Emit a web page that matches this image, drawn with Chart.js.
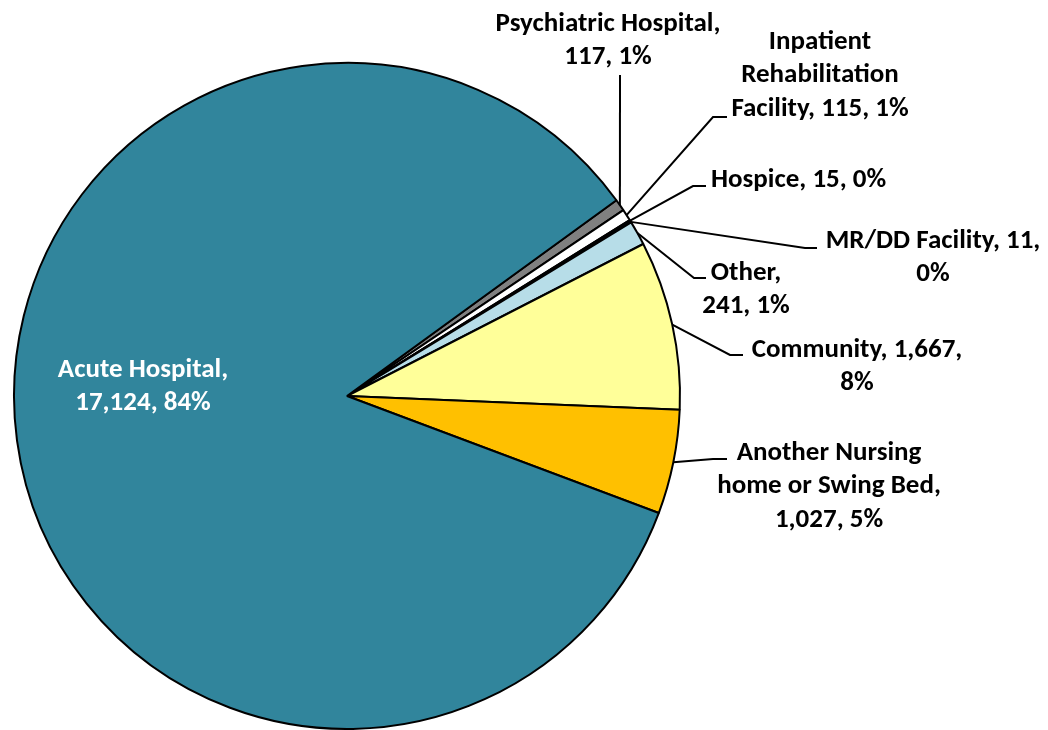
<!DOCTYPE html>
<html>
<head>
<meta charset="utf-8">
<script src="https://cdn.jsdelivr.net/npm/chart.js@4.4.0/dist/chart.umd.min.js"></script>
<style>
  html, body { margin: 0; padding: 0; background: #fff; overflow: hidden; }
  #wrap { width: 1048px; height: 730px; }
</style>
</head>
<body>
<div id="wrap"><canvas id="pieChart"></canvas></div>
<script>
// Destinos (ordem horaria a partir de ~54 graus)
var destinos = ["Psychiatric Hospital", "Inpatient Rehabilitation Facility", "Hospice", "MR/DD Facility",
   "Other", "Community", "Another Nursing home or Swing Bed", "Acute Hospital"];
var altas = [117, 115, 15, 11, 241, 1667, 1027, 17124];
var percentuais = ["1%", "1%", "0%", "0%", "1%", "8%", "5%", "84%"];
var cores = ["#808080", "#FFFFFF", "#000000", "#000000", "#B7DDE8", "#FFFF99", "#FFC000", "#31859C"];

// Quebras de linha dos rotulos (igual ao original)
var rotulos = [
   ["Psychiatric Hospital,", "117, 1%"],
   ["Inpatient", "Rehabilitation", "Facility, 115, 1%"],
   ["Hospice, 15, 0%"],
   ["MR/DD Facility, 11,", "0%"],
   ["Other,", "241, 1%"],
   ["Community, 1,667,", "8%"],
   ["Another Nursing", "home or Swing Bed,", "1,027, 5%"],
   ["Acute Hospital,", "17,124, 84%"],
];

// posicao do texto e das linhas de chamada
var layoutRotulos = [
   { x: 608, y: 24, align: "center", elbow: [620, 75], end: [620, 75] },
   { x: 820, y: 42, align: "center", elbow: [713, 117], end: [727, 117] },
   { x: 711, y: 180, align: "left", elbow: [693, 186], end: [706, 186] },
   { x: 933, y: 241, align: "center", elbow: [805, 248], end: [817, 248] },
   { x: 746, y: 273, align: "center", elbow: [694, 278], end: [706, 278] },
   { x: 857, y: 350, align: "center", elbow: [730, 355], end: [743, 355] },
   { x: 829, y: 453, align: "center", elbow: [713, 459], end: [727, 459] },
   { x: 143, y: 370, align: "center", color: "#FFFFFF" },
];

var rotulosPlugin = {
   id: "rotulos",
   afterDatasetsDraw: function (chart) {
      var ctx = chart.ctx;
      var arcs = chart.getDatasetMeta(0).data;
      ctx.save();
      ctx.font = "bold 27px Carlito, Lato, 'Open Sans', sans-serif";
      ctx.textBaseline = "middle";
      arcs.forEach(function (arc, i) {
         var l = layoutRotulos[i];
         if (l.elbow) {
            var mid = (arc.startAngle + arc.endAngle) / 2;
            var sx = arc.x + Math.cos(mid) * arc.outerRadius;
            var sy = arc.y + Math.sin(mid) * arc.outerRadius;
            ctx.beginPath();
            ctx.moveTo(sx, sy);
            ctx.lineTo(l.elbow[0], l.elbow[1]);
            ctx.lineTo(l.end[0], l.end[1]);
            ctx.strokeStyle = "#000";
            ctx.lineWidth = 2;
            ctx.stroke();
         }
         ctx.fillStyle = l.color || "#000";
         ctx.textAlign = l.align;
         rotulos[i].forEach(function (linha, k) {
            ctx.fillText(linha, l.x, l.y + k * 33.5);
         });
      });
      ctx.restore();
   },
};

var pieChart = new Chart(document.getElementById("pieChart").getContext("2d"), {
   type: "pie",
   data: {
      labels: destinos,
      datasets: [
         {
            data: altas,
            backgroundColor: cores,
            borderColor: "#000",
            borderWidth: 2,
         },
      ],
   },
   options: {
      responsive: true,
      maintainAspectRatio: false,
      animation: false,
      rotation: 54,
      layout: { padding: { left: 12, right: 366, top: 62, bottom: 0 } },
      plugins: {
         legend: { display: false },
         tooltip: { enabled: false },
      },
   },
   plugins: [rotulosPlugin],
});
</script>
</body>
</html>
